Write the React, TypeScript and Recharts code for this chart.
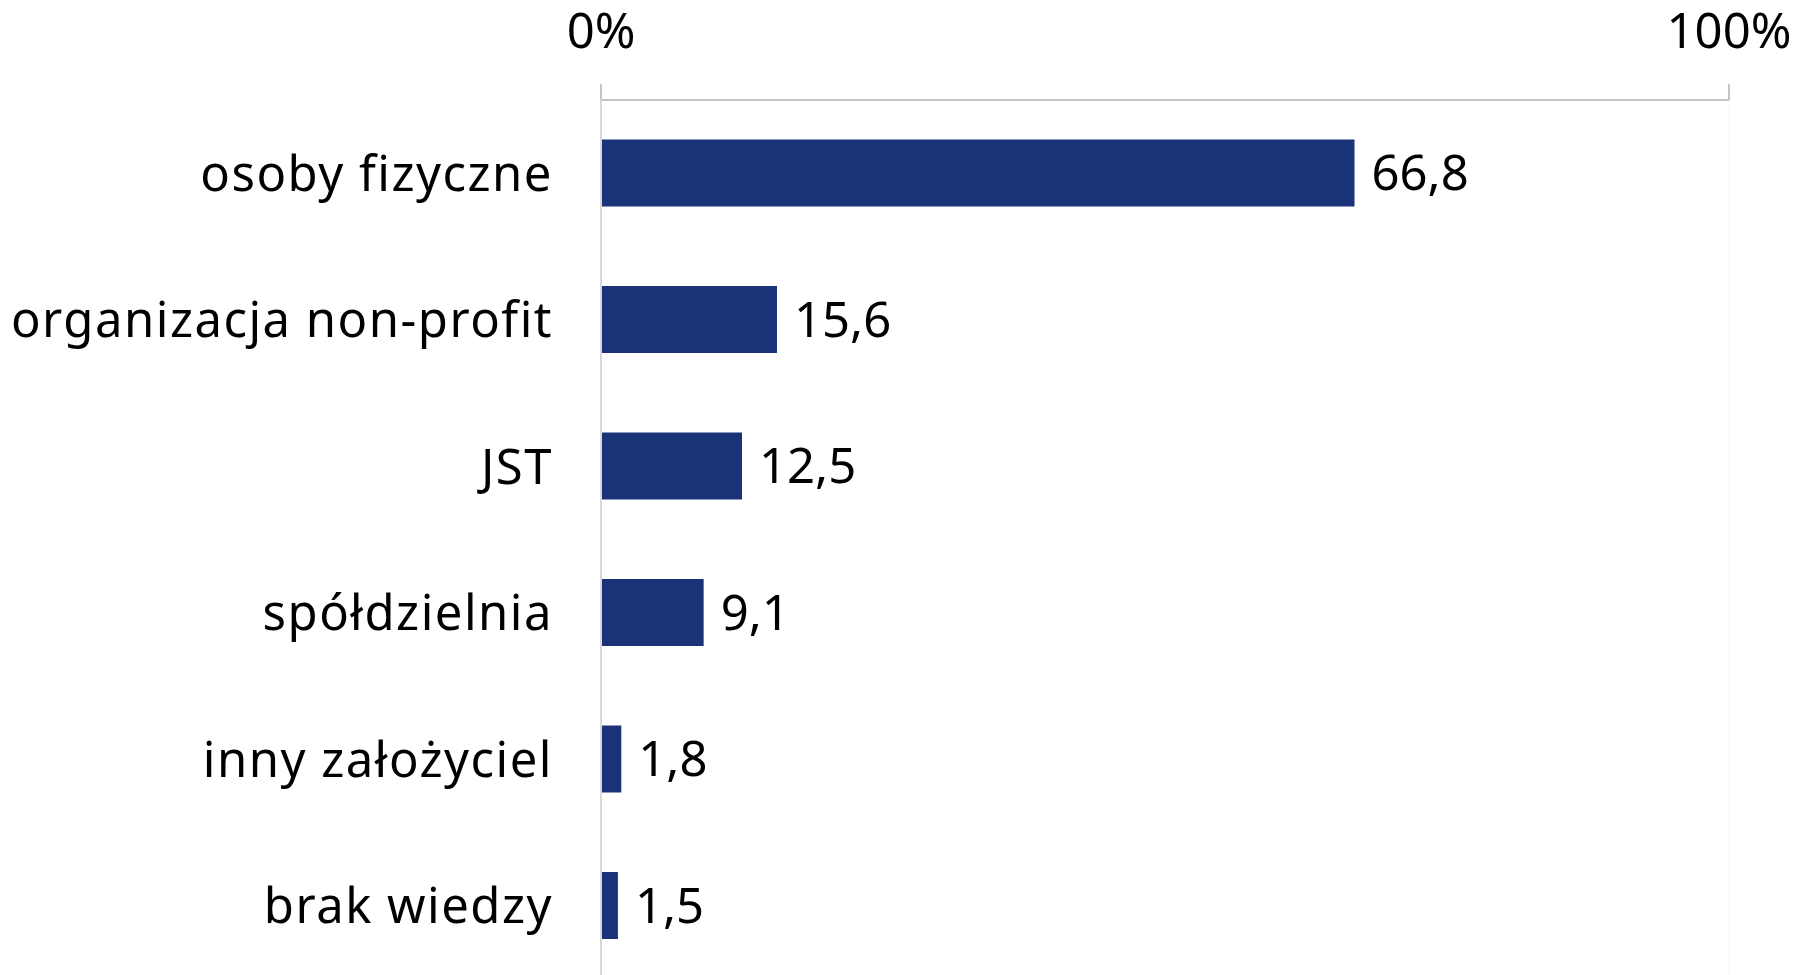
import React from 'react';
import { BarChart, Bar, XAxis, YAxis, CartesianGrid, LabelList } from 'recharts';

const categories = ['osoby fizyczne', 'organizacja non-profit', 'JST', 'spółdzielnia', 'inny założyciel', 'brak wiedzy'];
const values = [66.8, 15.6, 12.5, 9.1, 1.8, 1.5];
const xTicks = [0, 100];

const data = categories.map((name, i) => ({ name, value: values[i] }));

const FONT = '"Noto Sans", sans-serif';

export default function App() {
  return (
    <div style={{ position: 'fixed', left: 0, top: 0, width: 1812, height: 975, overflow: 'hidden', background: '#fff' }}>
      <BarChart
        width={1812}
        height={979}
        data={data}
        layout="vertical"
        margin={{ top: 0, right: 83, bottom: 0, left: 0 }}
        barCategoryGap="27%"
      >
        <CartesianGrid horizontal={false} vertical={true} stroke="#f2f2f2" />
        <XAxis
          type="number"
          orientation="top"
          domain={[0, 100]}
          ticks={xTicks}
          tickFormatter={(v: number) => `${v}%`}
          height={100}
          tickSize={16}
          tickMargin={36}
          axisLine={{ stroke: '#c4c4c4', strokeWidth: 2 }}
          tickLine={{ stroke: '#c4c4c4', strokeWidth: 2 }}
          tick={{ fill: '#000', fontSize: 49, fontFamily: FONT }}
        />
        <YAxis
          type="category"
          dataKey="name"
          width={601}
          tickSize={0}
          tickMargin={48}
          axisLine={{ stroke: '#d9d9d9', strokeWidth: 2 }}
          tickLine={false}
          tick={{ fill: '#000', fontSize: 49, fontFamily: FONT, letterSpacing: 1.5 }}
        />
        <Bar dataKey="value" fill="#1a3278" isAnimationActive={false}>
          <LabelList
            dataKey="value"
            position="right"
            offset={17}
            formatter={(v: number) => String(v).replace('.', ',')}
            style={{ fill: '#000', fontSize: 49, fontFamily: FONT }}
          />
        </Bar>
      </BarChart>
    </div>
  );
}
